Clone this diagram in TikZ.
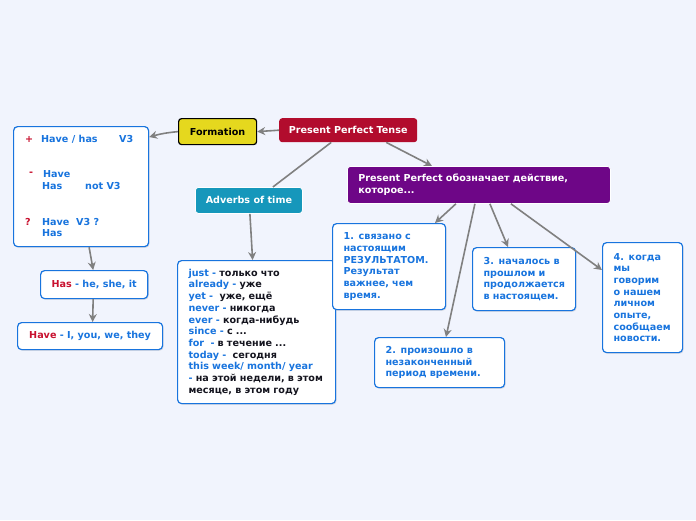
\documentclass[tikz,border=0pt]{standalone}
\usepackage{fontspec}
\setmainfont{DejaVu Sans}
\usetikzlibrary{arrows.meta,shadows}
\definecolor{bg}{RGB}{241,244,253}
\definecolor{pptred}{RGB}{178,12,45}
\definecolor{fyellow}{RGB}{229,216,30}
\definecolor{teal}{RGB}{22,151,187}
\definecolor{purp}{RGB}{110,6,135}
\definecolor{tblue}{RGB}{24,116,222}
\definecolor{tred}{RGB}{200,16,46}
\definecolor{tdark}{RGB}{20,20,30}
\definecolor{conn}{RGB}{128,128,128}
\tikzset{
  every node/.style={font=\bfseries\fontsize{9.6}{11.7}\selectfont},
  topic/.style={rounded corners=3pt, text=white, inner sep=0pt, anchor=north west},
  bluebox/.style={draw=tblue, line width=1.2pt, fill=white, rounded corners=4pt, anchor=north west, align=left, text=tblue, inner xsep=11pt, inner ysep=0pt,
    drop shadow={opacity=0.2, shadow xshift=1pt, shadow yshift=-1.2pt}},
  txt/.style={inner sep=0pt, anchor=west},
  link/.style={draw=conn, line width=1.6pt},
  arr/.style={link, -{Stealth[length=8pt,width=8pt]}},
}
\begin{document}
\begin{tikzpicture}[x=1pt,y=-1pt]
\fill[bg] (0,0) rectangle (696,520);
\useasboundingbox (0,0) rectangle (696,520);

% main topics
\node[topic, fill=pptred, minimum width=138pt, minimum height=24pt] (ppt) at (279,118) {Present Perfect Tense};
\node[topic, fill=fyellow, draw=black, line width=1.2pt, text=black, minimum width=78pt, minimum height=26pt] (form) at (178,118) {Formation};
\node[topic, fill=teal, draw=white, line width=0.8pt, minimum width=107pt, minimum height=26pt] (adv) at (195,187) {Adverbs of time};
\node[topic, fill=purp, draw=white, line width=0.8pt, minimum height=37pt, text width=241pt, align=left, inner xsep=11pt] (purp) at (347,166) {Present Perfect обозначает действие,\\которое...};

% formation content box
\node[bluebox, minimum width=135pt, minimum height=120pt] (fbox) at (13,126) {};
\node[txt, text=tred] (p1) at (25,139) {+};
\node[txt, text=tblue] (p2) at (41,139) {Have / has};
\node[txt, text=tblue] (p3) at (119,139) {V3};
\node[txt, text=tred] (m1) at (29,174) {-};
\node[txt, text=tblue] (m2) at (43,174) {Have};
\node[txt, text=tblue] (m3) at (42,186) {Has};
\node[txt, text=tblue] (m4) at (85,186) {not V3};
\node[txt, text=tred] (q1) at (25,222) {?};
\node[txt, text=tblue] (q2) at (42,222) {Have\ \ V3 ?};
\node[txt, text=tblue] (q3) at (42,233) {Has};

\node[bluebox, minimum width=107pt, minimum height=28pt, align=center] (has) at (40,270) {\textcolor{tred}{Has} - he, she, it};
\node[bluebox, minimum width=145pt, minimum height=27pt, align=center] (have) at (17,322) {\textcolor{tred}{Have} - I, you, we, they};

% adverbs list
\node[bluebox, text width=136pt, minimum height=143pt] (list) at (177,260) {%
just - \textcolor{tdark}{только что}\\
already - \textcolor{tdark}{уже}\\
yet - \ \textcolor{tdark}{уже, ещё}\\
never - \textcolor{tdark}{никогда}\\
ever - \textcolor{tdark}{когда-нибудь}\\
since - \textcolor{tdark}{с ...}\\
for \ - \textcolor{tdark}{в течение ...}\\
today - \ \textcolor{tdark}{сегодня}\\
this week/ month/ year\\
- \textcolor{tdark}{на этой недели, в этом}\\
\textcolor{tdark}{месяце, в этом году}};

% meaning boxes
\node[bluebox, text width=91pt, minimum height=86pt] (b1) at (332,223) {1. связано с\\настоящим\\РЕЗУЛЬТАТОМ.\\Результат\\важнее, чем\\время.};
\node[bluebox, text width=108pt, minimum height=50pt] (b2) at (374,337) {2. произошло в\\незаконченный\\период времени.};
\node[bluebox, text width=81pt, minimum height=63pt] (b3) at (472,247) {3. началось в\\прошлом и\\продолжается\\в настоящем.};
\node[bluebox, text width=58pt, minimum height=110pt] (b4) at (602,242) {4. когда\\мы\\говорим\\о нашем\\личном\\опыте,\\сообщаем\\новости.};

% connectors
\draw[arr] (ppt.west) -- (form.east);
\draw[arr] (form.west) to[bend right=5] ([yshift=-11pt]fbox.north east);
\draw[link] ([xshift=-17pt]ppt.south) -- ([xshift=24pt]adv.north);
\draw[arr] ([xshift=38pt]ppt.south) -- ([xshift=85pt]purp.north west);
\draw[arr] ([xshift=1pt]adv.south) -- ([xshift=-4pt]list.north);
\draw[arr] ([xshift=8pt]fbox.south) -- ([xshift=-1pt]has.north);
\draw[arr] ([xshift=-1pt]has.south) -- ([xshift=2.5pt]have.north);
\draw[arr] ([xshift=-23pt]purp.south) -- ([xshift=103pt]b1.north west);
\draw[arr] ([xshift=-4pt]purp.south) -- ([xshift=72pt]b2.north west);
\draw[arr] ([xshift=11pt]purp.south) -- ([xshift=36pt]b3.north west);
\draw[arr] ([xshift=32pt]purp.south) -- ([yshift=-28pt]b4.north west);
\end{tikzpicture}
\end{document}
